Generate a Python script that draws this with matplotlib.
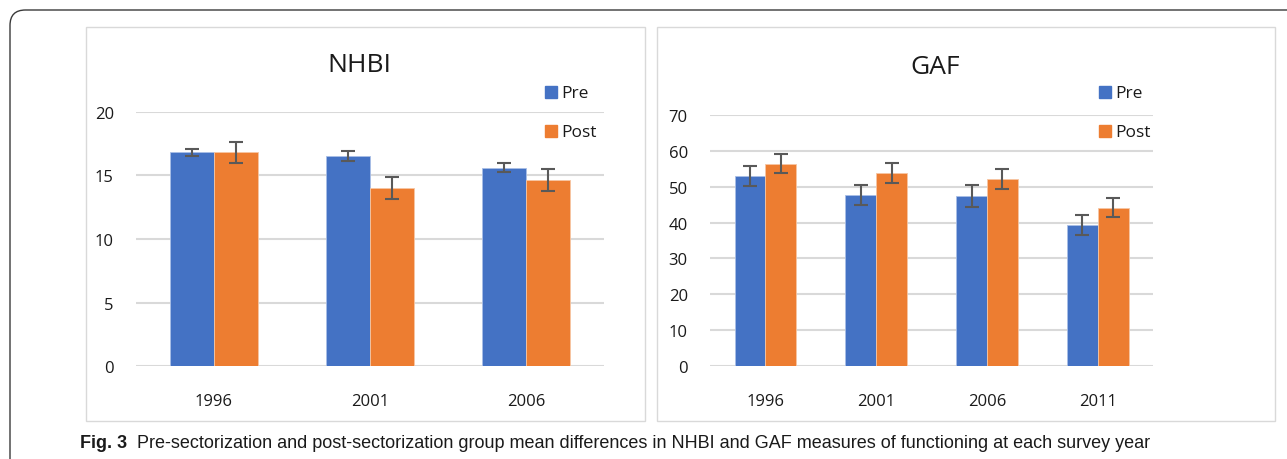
import matplotlib
matplotlib.use("Agg")
import matplotlib.pyplot as plt
import numpy as np
from matplotlib.patches import Rectangle, FancyBboxPatch

plt.rcParams['font.family'] = ['Open Sans', 'DejaVu Sans']

# Data
nhbi_years = ["1996", "2001", "2006"]
nhbi_pre = [16.8, 16.5, 15.6]
nhbi_pre_err = [0.3, 0.38, 0.37]
nhbi_post = [16.8, 14.0, 14.65]
nhbi_post_err = [0.85, 0.85, 0.86]

gaf_years = ["1996", "2001", "2006", "2011"]
gaf_pre = [52.9, 47.7, 47.4, 39.2]
gaf_pre_err = [2.8, 2.85, 3.0, 2.8]
gaf_post = [56.4, 53.9, 52.2, 44.1]
gaf_post_err = [2.7, 2.8, 2.8, 2.65]

series_labels = ["Pre", "Post"]
colors = ["#4472C4", "#ED7D31"]
W, H = 1287, 460

fig = plt.figure(figsize=(W / 100, H / 100), dpi=100)

def fx(px):
    return px / W

def fy(py):
    return 1 - py / H

# outer rounded border
outer = FancyBboxPatch((fx(10), fy(480)), fx(1320 - 10), (480 - 11) / H,
                       boxstyle="round,pad=0,rounding_size=0.012",
                       transform=fig.transFigure, fill=False,
                       edgecolor="#3a3a3a", linewidth=1.0,
                       mutation_aspect=W / H)
fig.patches.append(outer)

# panel boxes
for x0, x1 in [(86, 645), (657, 1275)]:
    fig.patches.append(Rectangle((fx(x0), fy(422)), fx(x1 - x0), (422 - 28) / H,
                                 transform=fig.transFigure, fill=False,
                                 edgecolor="#d9d9d9", linewidth=1.0))

def panel(rect, years, pre, pre_err, post, post_err, ymax, step, width, title, title_xy, leg_x):
    ax = fig.add_axes(rect)
    x = np.arange(len(years))
    ek = dict(ecolor="#595959", elinewidth=1.5, capsize=5, capthick=1.5)
    ax.bar(x - width / 2, pre, width, yerr=pre_err, color=colors[0],
           edgecolor="#a9bfe6", linewidth=0.6, error_kw=ek, zorder=3, label=series_labels[0])
    ax.bar(x + width / 2, post, width, yerr=post_err, color=colors[1],
           edgecolor="#f7c6a3", linewidth=0.6, error_kw=ek, zorder=3, label=series_labels[1])
    ax.set_xlim(-0.5, len(years) - 0.5)
    ax.set_ylim(0, ymax)
    ax.set_yticks(np.arange(0, ymax + 0.1, step))
    ax.yaxis.grid(True, color="#d9d9d9", linewidth=1.5, zorder=0)
    ax.set_axisbelow(True)
    for s in ax.spines.values():
        s.set_visible(False)
    ax.set_xticks(x)
    ax.set_xticklabels(years)
    ax.tick_params(axis="both", length=0, labelsize=12, colors="#1a1a1a")
    ax.tick_params(axis="y", pad=16)
    ax.tick_params(axis="x", pad=19)
    fig.text(fx(title_xy[0]), fy(title_xy[1]), title, ha="center", va="center",
             fontsize=19, color="#1a1a1a")
    # legend
    for i, lab in enumerate(series_labels):
        yc = 93 + i * 39
        fig.patches.append(Rectangle((fx(leg_x), fy(yc + 6)), fx(12), 12 / H,
                                     transform=fig.transFigure, color=colors[i]))
        fig.text(fx(leg_x + 16), fy(yc + 1), lab, ha="left", va="center",
                 fontsize=12.5, color="#1a1a1a")
    return ax

panel([fx(136), fy(367.3), fx(604 - 136), (367.3 - 112.7) / H],
      nhbi_years, nhbi_pre, nhbi_pre_err, nhbi_post, nhbi_post_err,
      20, 5, 0.285, "NHBI", (359, 66), 545)
panel([fx(710), fy(367.3), fx(1153.3 - 710), (367.3 - 115.7) / H],
      gaf_years, gaf_pre, gaf_pre_err, gaf_post, gaf_post_err,
      70, 10, 0.278, "GAF", (935, 68), 1099)

cap_font = ['Liberation Sans Narrow', 'Liberation Sans', 'DejaVu Sans']
fig.text(fx(80), fy(444), "Fig. 3", ha="left", va="center", fontsize=13,
         fontweight="bold", family=cap_font, color="#1a1a1a")
fig.text(fx(137), fy(444),
         "Pre-sectorization and post-sectorization group mean differences in NHBI and GAF measures of functioning at each survey year",
         ha="left", va="center", fontsize=13, family=cap_font, color="#1a1a1a")

fig.savefig("out.png", dpi=100)
